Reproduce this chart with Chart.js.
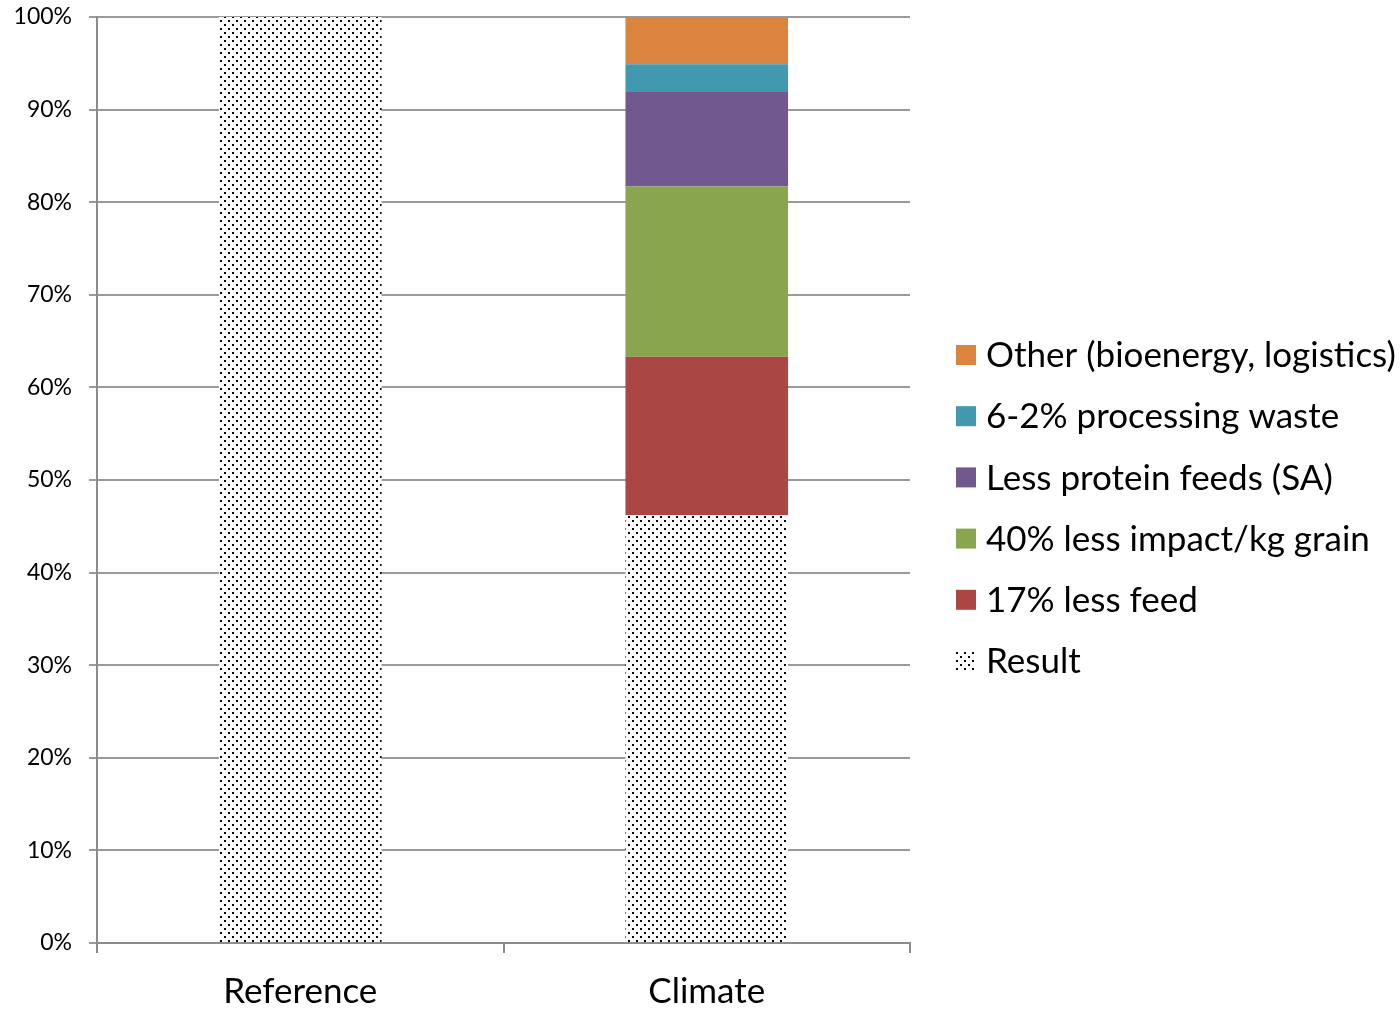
<!DOCTYPE html>
<html>
<head>
<meta charset="utf-8">
<script src="https://cdn.jsdelivr.net/npm/chart.js@4/dist/chart.umd.min.js"></script>
<style>
  html, body { margin: 0; padding: 0; background: #fff; }
  #wrap { width: 1400px; height: 1009px; }
</style>
</head>
<body>
<div id="wrap"><canvas id="c" width="1400" height="1009"></canvas></div>
<script>
// Scenarios on the x axis
const categories = ['Reference', 'Climate'];

// Share of the reference footprint (%), stacked bottom to top
const result        = [100, 46.2];
const lessFeed      = [0, 17.1];
const lessImpact    = [0, 18.4];
const lessProtein   = [0, 10.2];
const procWaste     = [0, 3.0];
const otherSavings  = [0, 5.1];

const seriesNames = [
  'Result',
  '17% less feed',
  '40% less impact/kg grain',
  'Less protein feeds (SA)',
  '6-2% processing waste',
  'Other (bioenergy, logistics)'
];

const yTicks = [0, 10, 20, 30, 40, 50, 60, 70, 80, 90, 100];

// Small dotted fill used for the remaining result
function dotPattern() {
  const t = document.createElement('canvas');
  t.width = 8; t.height = 8;
  const g = t.getContext('2d');
  g.fillStyle = '#ffffff';
  g.fillRect(0, 0, 8, 8);
  g.fillStyle = '#000000';
  g.fillRect(0, 0, 2, 2);
  g.fillRect(4, 4, 2, 2);
  return g.createPattern(t, 'repeat');
}

const FONT = 'Lato, "Open Sans", sans-serif';
const dots = dotPattern();

const datasets = [
  { label: seriesNames[0], data: result,       backgroundColor: dots },
  { label: seriesNames[1], data: lessFeed,     backgroundColor: '#aa4744' },
  { label: seriesNames[2], data: lessImpact,   backgroundColor: '#89a54e' },
  { label: seriesNames[3], data: lessProtein,  backgroundColor: '#71588f' },
  { label: seriesNames[4], data: procWaste,    backgroundColor: '#4198af' },
  { label: seriesNames[5], data: otherSavings, backgroundColor: '#db843d' }
].map(d => Object.assign(d, {
  borderWidth: 0,
  barPercentage: 0.4,
  categoryPercentage: 1.0
}));

// Legend to the right of the plot, top entry = top of the stack
const sideLegend = {
  id: 'sideLegend',
  afterDraw(chart) {
    const ctx = chart.ctx;
    const area = chart.chartArea;
    const boxX = area.right + 46;
    const textX = boxX + 30;
    const rowH = 61.2;
    const items = chart.data.datasets.slice().reverse();
    const firstY = 355;
    ctx.save();
    ctx.font = '35px ' + FONT;
    ctx.textBaseline = 'middle';
    ctx.textAlign = 'left';
    items.forEach((ds, i) => {
      const y = firstY + i * rowH;
      ctx.fillStyle = ds.backgroundColor;
      ctx.fillRect(boxX, y - 10, 20, 20);
      ctx.fillStyle = '#000';
      ctx.fillText(ds.label, textX, y + 1);
    });
    ctx.restore();
  }
};

new Chart(document.getElementById('c'), {
  type: 'bar',
  data: { labels: categories, datasets },
  plugins: [sideLegend],
  options: {
    responsive: false,
    animation: false,
    layout: { padding: { left: 0, top: 17, right: 490, bottom: 0 } },
    plugins: {
      tooltip: { enabled: false },
      legend: { display: false }
    },
    scales: {
      x: {
        stacked: true,
        afterFit: s => { s.height = 66; s.paddingLeft = 0; s.paddingRight = 0; },
        grid: {
          offset: true,
          drawOnChartArea: false,
          color: '#8c8c8c',
          lineWidth: 2,
          tickLength: 10
        },
        border: { color: '#8c8c8c', width: 2 },
        ticks: {
          color: '#000',
          padding: 18,
          font: { family: FONT, size: 35 }
        }
      },
      y: {
        stacked: true,
        min: 0,
        max: 100,
        afterFit: s => { s.width = 97; s.paddingTop = 0; s.paddingBottom = 0; },
        afterBuildTicks: axis => { axis.ticks = yTicks.map(v => ({ value: v })); },
        grid: {
          color: '#9a9a9a',
          lineWidth: 2,
          tickLength: 8
        },
        border: { color: '#8c8c8c', width: 2 },
        ticks: {
          color: '#000',
          padding: 17,
          font: { family: FONT, size: 23 },
          callback: v => v + '%'
        }
      }
    }
  }
});
</script>
</body>
</html>
